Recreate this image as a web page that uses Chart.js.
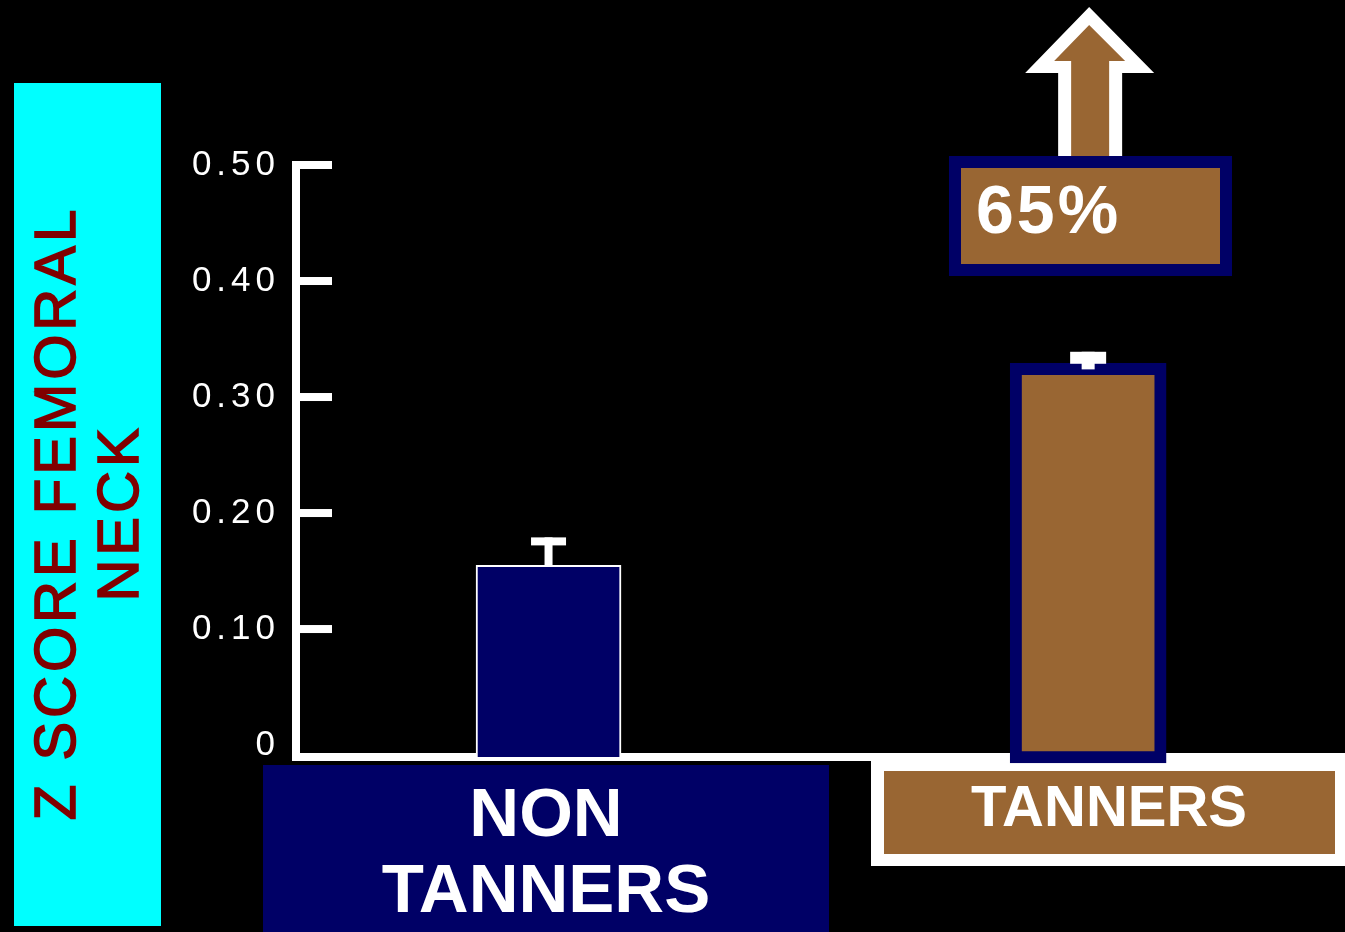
<!DOCTYPE html>
<html>
<head>
<meta charset="utf-8">
<script src="https://cdn.jsdelivr.net/npm/chart.js@4/dist/chart.umd.min.js"></script>
<style>
  html, body { margin: 0; padding: 0; background: #000; }
  #wrap { width: 1345px; height: 932px; position: relative; }
</style>
</head>
<body>
<div id="wrap"><canvas id="zChart"></canvas></div>
<script>
// Data
const groups = ['NON TANNERS', 'TANNERS'];
const groupPos = [1, 2];
const zScores = [0.155, 0.329];
const zErrors = [0.024, 0.010];
const yTicks = [0, 0.10, 0.20, 0.30, 0.40, 0.50];
const yTitle = ['Z SCORE FEMORAL', 'NECK'];
const riseLabel = '65%';

// Colours
const navy = '#000066';
const brown = '#996633';
const cyan = '#00ffff';
const maroon = '#800000';
const white = '#ffffff';

// Bar styling per group
const barFills = [navy, brown];
const barEdges = [white, navy];
const edgeWidths = [2, 12];
const barWidths = [145, 156];
const barBases = [-0.0103, -0.0155];
const capHeights = [8, 12];
const stemWidths = [8, 13];
const capWidths = [35, 36];

const FONT = "'Liberation Sans', Arial, Helvetica, sans-serif";

// Background, y title box, axis, category boxes and the 65% call-out
const decorPlugin = {
    id: 'decor',
    beforeDraw(chart) {
        const ctx = chart.ctx;
        ctx.save();
        ctx.fillStyle = '#000';
        ctx.fillRect(0, 0, chart.width, chart.height);
        ctx.restore();
        // spaced digits for the tick labels
        ctx.letterSpacing = '5px';
    },
    beforeDatasetsDraw(chart) {
        const ctx = chart.ctx;
        const y = chart.scales.y;
        const x = chart.scales.x;
        const area = chart.chartArea;
        ctx.save();
        ctx.letterSpacing = '0px';

        // Y title panel
        ctx.fillStyle = cyan;
        ctx.fillRect(14, 83, 147, 843);
        ctx.fillStyle = maroon;
        ctx.strokeStyle = maroon;
        ctx.lineWidth = 1.6;
        ctx.font = '58px ' + FONT;
        ctx.textAlign = 'center';
        ctx.textBaseline = 'alphabetic';
        ctx.letterSpacing = '4px';
        const baselines = [75, 138];
        yTitle.forEach((line, i) => {
            ctx.save();
            ctx.translate(baselines[i], 513);
            ctx.rotate(-Math.PI / 2);
            ctx.fillText(line, 0, 0);
            ctx.strokeText(line, 0, 0);
            ctx.restore();
        });
        ctx.letterSpacing = '0px';

        // Axis line, inward ticks and base line
        ctx.fillStyle = white;
        const top = y.getPixelForValue(yTicks[yTicks.length - 1]);
        ctx.fillRect(area.left - 4, top - 4, 8, area.bottom - top + 8);
        yTicks.slice(1).forEach(v => {
            const py = y.getPixelForValue(v);
            ctx.fillRect(area.left - 4, py - 4, 40, 8);
        });
        ctx.fillRect(area.left - 4, area.bottom - 4, chart.width - area.left + 4, 8);

        // Category label boxes
        ctx.fillStyle = navy;
        ctx.fillRect(263, 765, 566, 167);
        ctx.fillStyle = white;
        ctx.fillRect(871, area.bottom - 4, 474, 113);
        ctx.fillStyle = brown;
        ctx.fillRect(884, 771, 451, 83);

        ctx.fillStyle = white;
        ctx.textAlign = 'center';
        ctx.font = 'bold 69px ' + FONT;
        const words = groups[0].split(' ');
        ctx.fillText(words[0], 546, 836);
        ctx.fillText(words[1], 546, 912);
        ctx.font = 'bold 58px ' + FONT;
        ctx.fillText(groups[1], 1109, 826);

        // Up arrow above the tanners bar
        const cx = x.getPixelForValue(groupPos[1]) + 1;
        ctx.fillStyle = white;
        ctx.beginPath();
        ctx.moveTo(cx, 7);
        ctx.lineTo(cx + 65, 73);
        ctx.lineTo(cx + 33, 73);
        ctx.lineTo(cx + 33, 160);
        ctx.lineTo(cx - 31, 160);
        ctx.lineTo(cx - 31, 73);
        ctx.lineTo(cx - 64, 73);
        ctx.closePath();
        ctx.fill();
        ctx.fillStyle = brown;
        ctx.beginPath();
        ctx.moveTo(cx, 25);
        ctx.lineTo(cx + 36, 61);
        ctx.lineTo(cx + 20, 61);
        ctx.lineTo(cx + 20, 160);
        ctx.lineTo(cx - 18, 160);
        ctx.lineTo(cx - 18, 61);
        ctx.lineTo(cx - 35, 61);
        ctx.closePath();
        ctx.fill();

        // 65% box
        ctx.fillStyle = navy;
        ctx.fillRect(949, 156, 283, 120);
        ctx.fillStyle = brown;
        ctx.fillRect(961, 168, 259, 96);
        ctx.fillStyle = white;
        ctx.textAlign = 'left';
        ctx.font = 'bold 68px ' + FONT;
        ctx.letterSpacing = '3px';
        ctx.fillText(riseLabel, 976, 233);

        ctx.restore();
    },
    afterDatasetsDraw(chart) {
        const ctx = chart.ctx;
        const y = chart.scales.y;
        ctx.save();
        ctx.fillStyle = white;
        groups.forEach((g, i) => {
            const bar = chart.getDatasetMeta(i).data[0];
            const errTop = y.getPixelForValue(zScores[i] + zErrors[i]);
            const stemBottom = bar.y + edgeWidths[i] / 2;
            ctx.fillRect(bar.x - stemWidths[i] / 2, errTop, stemWidths[i], stemBottom - errTop);
            ctx.fillRect(bar.x - capWidths[i] / 2, errTop, capWidths[i], capHeights[i]);
        });
        ctx.restore();
    },
    afterDraw(chart) {
        chart.ctx.letterSpacing = '0px';
    }
};

new Chart(document.getElementById('zChart'), {
    type: 'bar',
    data: {
        datasets: groups.map((g, i) => ({
            label: g,
            data: [{ x: groupPos[i], y: zScores[i] }],
            backgroundColor: barFills[i],
            borderColor: barEdges[i],
            borderWidth: edgeWidths[i],
            borderSkipped: i === 0 ? 'start' : false,
            barThickness: barWidths[i],
            base: barBases[i],
            clip: false
        }))
    },
    options: {
        responsive: true,
        maintainAspectRatio: false,
        animation: false,
        grouped: false,
        layout: { padding: { left: 176, right: 0, top: 165, bottom: 175 } },
        plugins: {
            legend: { display: false },
            tooltip: { enabled: false }
        },
        scales: {
            x: {
                type: 'linear',
                display: false,
                offset: false,
                min: 0.532,
                max: 2.476
            },
            y: {
                min: -0.0103,
                max: 0.5,
                afterBuildTicks: scale => {
                    scale.ticks = yTicks.map(v => ({ value: v }));
                },
                afterFit: scale => { scale.width = 120; },
                grid: { display: false, drawTicks: false, tickLength: 0 },
                border: { display: false },
                ticks: {
                    color: white,
                    padding: 16,
                    font: { family: FONT, size: 35 },
                    callback: v => v === 0 ? '0' : v.toFixed(2)
                }
            }
        }
    },
    plugins: [decorPlugin]
});
</script>
</body>
</html>
